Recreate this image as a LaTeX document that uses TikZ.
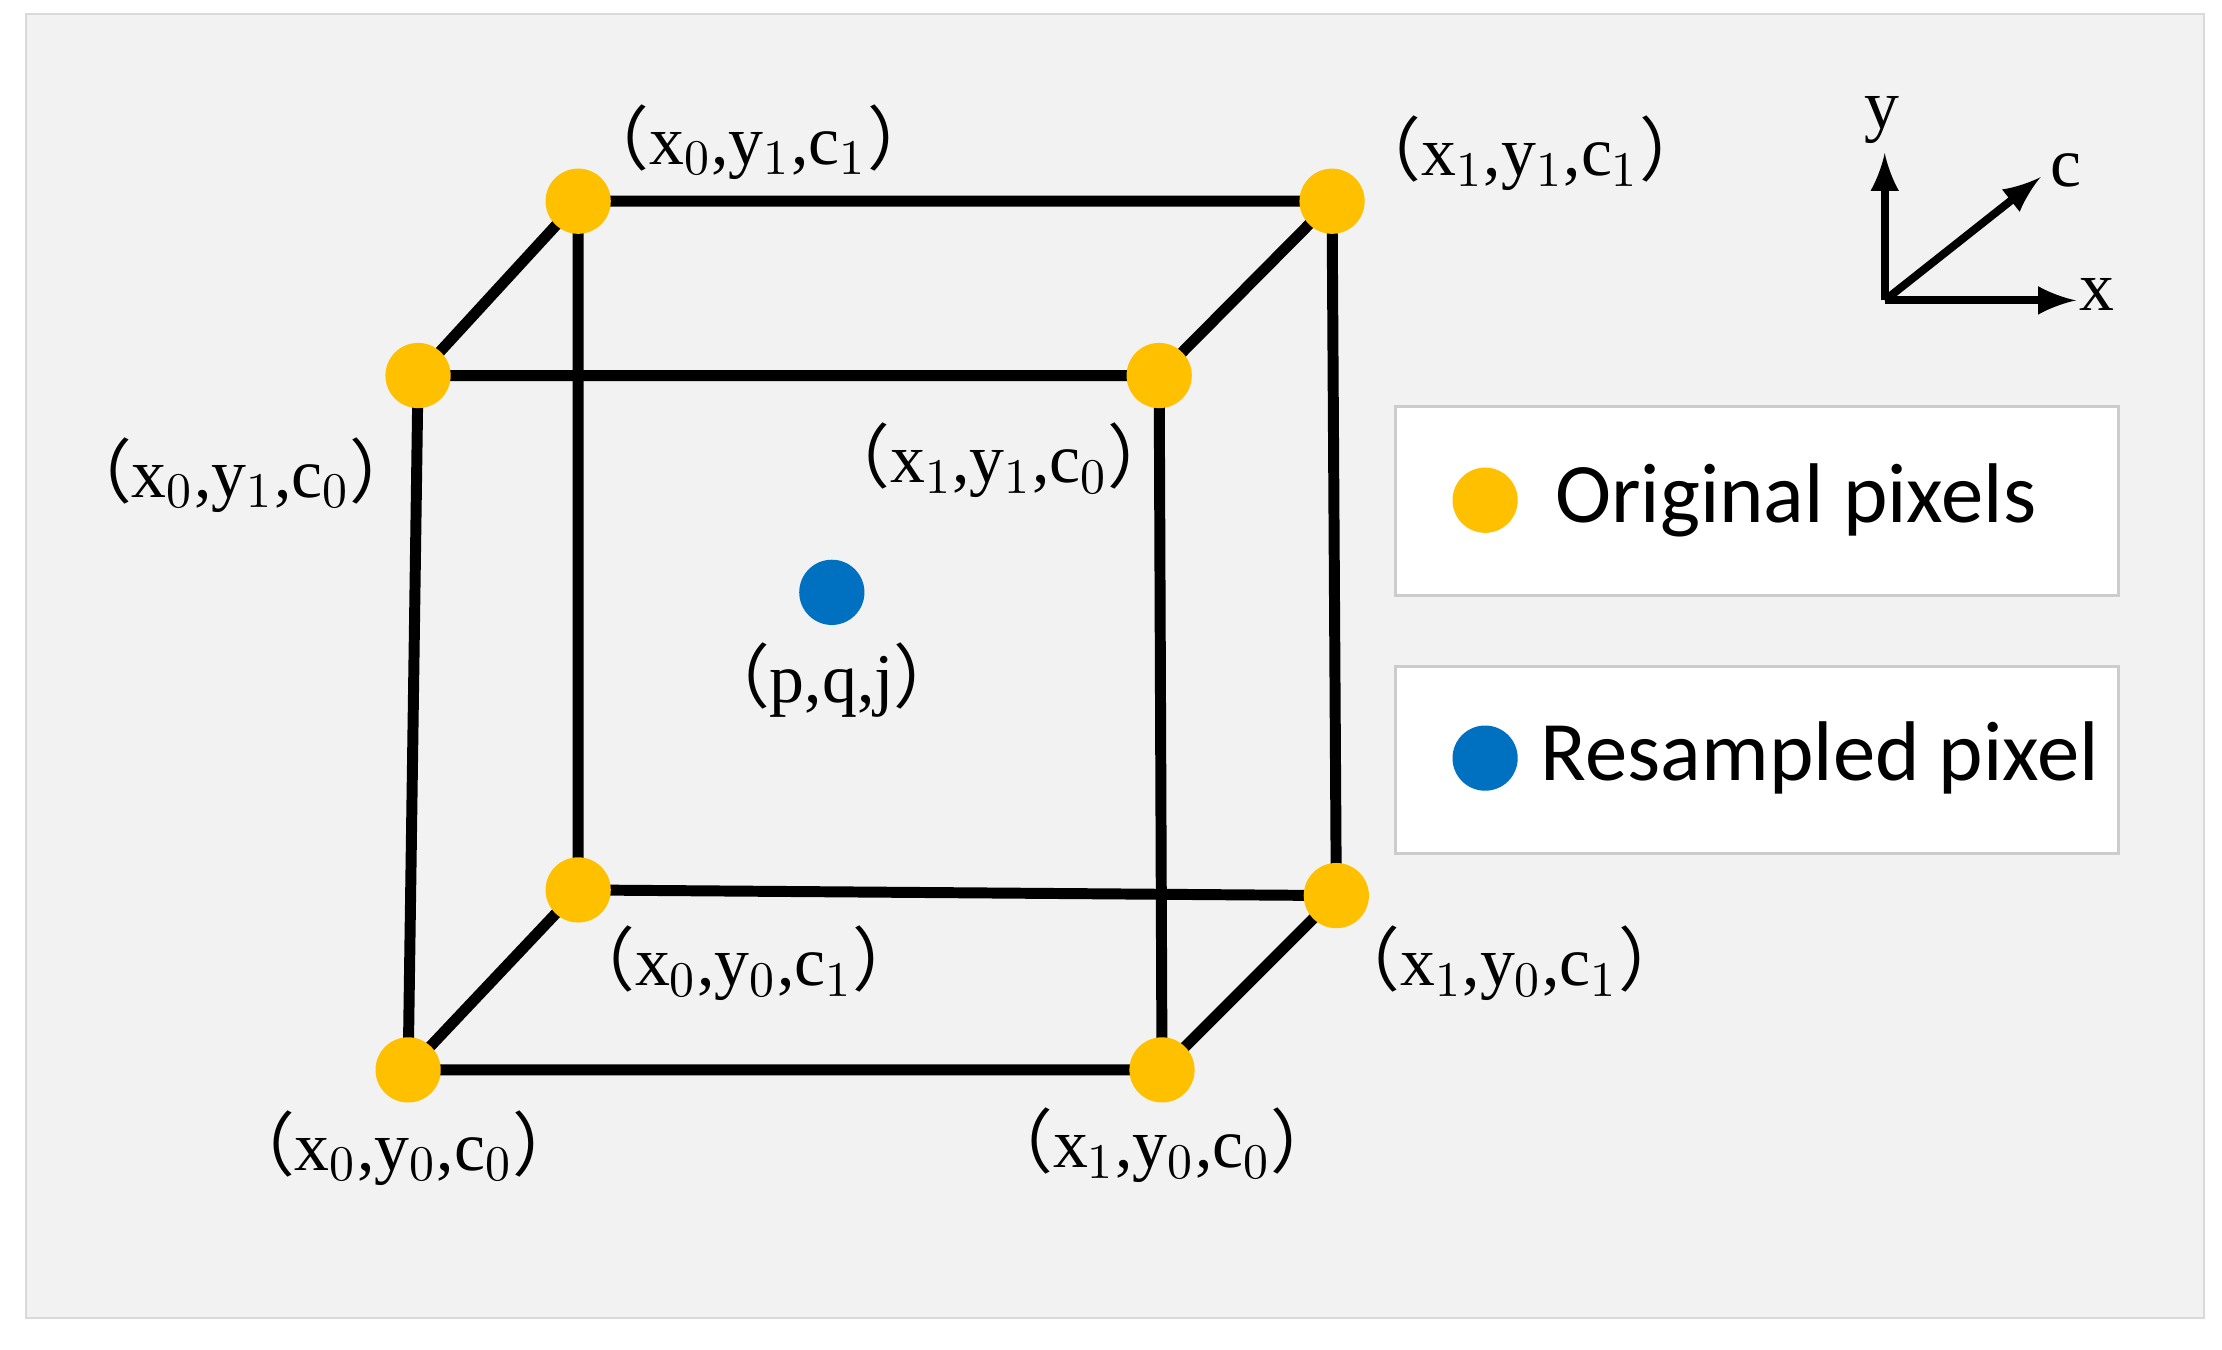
\documentclass[tikz,border=0pt]{standalone}
\usepackage{fontspec}
\setmainfont{Liberation Serif}
\newfontfamily\cjk{Noto Sans CJK SC}
\newfontfamily\lgd{Carlito}
\newcommand{\lp}{{\cjk （}}
\newcommand{\rp}{{\cjk ）}}
\definecolor{bg}{HTML}{F2F2F2}
\definecolor{org}{HTML}{FFC000}
\definecolor{blu}{HTML}{0070C0}
\begin{document}
\begin{tikzpicture}[x=0.01cm,y=-0.01cm,
  pt/.style={circle,fill=org,minimum size=0.46cm,inner sep=0},
  bp/.style={circle,fill=blu,minimum size=0.46cm,inner sep=0},
  lab/.style={font=\fontsize{14}{16}\selectfont,inner sep=0},
  edge/.style={line width=2.2pt,black},
  box/.style={draw=gray!40,fill=white,line width=0.6pt},
  ax/.style={line width=1.6pt,-latex}]
\useasboundingbox (0,0) rectangle (1568,952.6);
\fill[bg,draw=gray!30] (18,10) rectangle (1555,930);
\coordinate (a) at (408,142); \coordinate (b) at (940,142);
\coordinate (c) at (295,265); \coordinate (d) at (818,265);
\coordinate (e) at (408,628); \coordinate (f) at (943,632);
\coordinate (g) at (288,755); \coordinate (h) at (820,755);
\draw[edge] (a)--(b)--(f)--(e)--cycle;
\draw[edge] (c)--(d)--(h)--(g)--cycle;
\draw[edge] (a)--(c) (b)--(d) (e)--(g) (f)--(h);
\foreach \n in {a,b,c,d,e,f,g,h} \node[pt] (n\n) at (\n) {};
\node[bp] (p) at (587,418) {};
\node[lab] at (535,100) {\lp x$_0$,y$_1$,c$_1$\rp};
\node[lab] at (1080,108) {\lp x$_1$,y$_1$,c$_1$\rp};
\node[lab] at (170,335) {\lp x$_0$,y$_1$,c$_0$\rp};
\node[lab] at (705,325) {\lp x$_1$,y$_1$,c$_0$\rp};
\node[lab] at (525,680) {\lp x$_0$,y$_0$,c$_1$\rp};
\node[lab] at (1065,680) {\lp x$_1$,y$_0$,c$_1$\rp};
\node[lab] at (285,810) {\lp x$_0$,y$_0$,c$_0$\rp};
\node[lab] at (820,808) {\lp x$_1$,y$_0$,c$_0$\rp};
\node[lab] at (587,480) {\lp p,q,j\rp};
\draw[box] (985,287) rectangle (1495,420);
\draw[box] (985,470) rectangle (1495,602);
\node[pt] (l1) at (1048,353) {};
\node[bp] (l2) at (1048,535) {};
\node[font=\lgd\fontsize{17}{20}\selectfont,anchor=west] at (1085,353) {Original pixels};
\node[font=\lgd\fontsize{17}{20}\selectfont,anchor=west] at (1075,535) {Resampled pixel};
\coordinate (o) at (1330,212);
\coordinate (ye) at (1330,108); \coordinate (xe) at (1465,212); \coordinate (ce) at (1440,125);
\draw[ax] (o)--(ye); \draw[ax] (o)--(xe); \draw[ax] (o)--(ce);
\node[lab] at (1328,85) {y};
\node[lab] at (1480,208) {x};
\node[lab] at (1458,120) {c};
\end{tikzpicture}
\end{document}
